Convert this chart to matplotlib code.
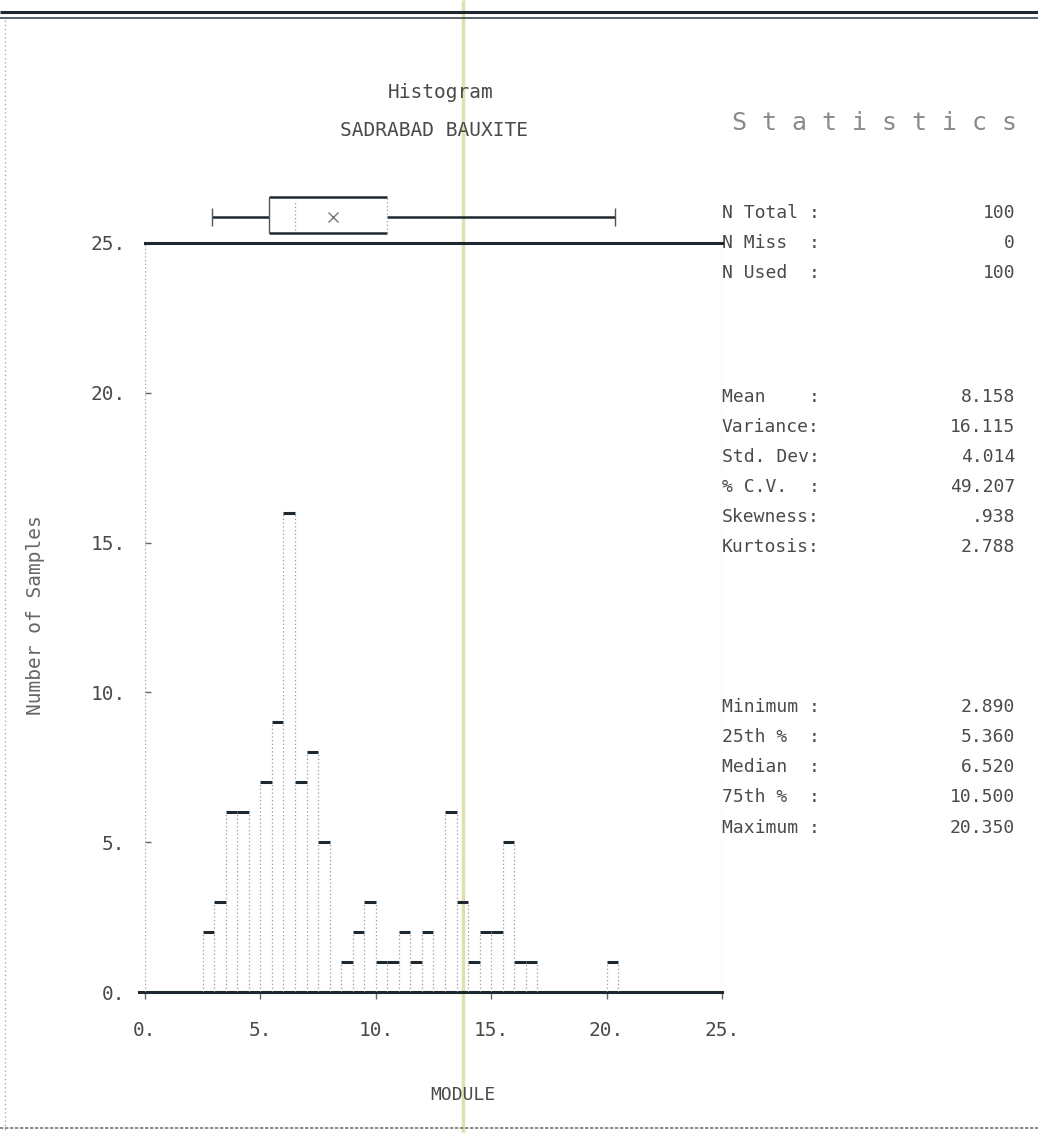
import numpy as np
import matplotlib.pyplot as plt

# histogram counts, bins of 0.5 starting at 2.5
bin_start = 2.5
bin_width = 0.5
counts = [2, 3, 6, 6, 0, 7, 9, 16, 7, 8, 5, 0,
          1, 2, 3, 1, 1, 2, 1, 2, 0, 6, 3, 1,
          2, 2, 5, 1, 1, 0, 0, 0, 0, 0, 0, 1]

# summary statistics printed on the right
stat_labels = ["N Total :", "N Miss  :", "N Used  :",
               "Mean    :", "Variance:", "Std. Dev:", "% C.V.  :", "Skewness:", "Kurtosis:",
               "Minimum :", "25th %  :", "Median  :", "75th %  :", "Maximum :"]
stat_values = ["100", "0", "100",
               "8.158", "16.115", "4.014", "49.207", ".938", "2.788",
               "2.890", "5.360", "6.520", "10.500", "20.350"]

# box plot values
box_min, box_q1, box_med, box_q3, box_max = 2.890, 5.360, 6.520, 10.500, 20.350
box_mean = 8.158

xticks = [0, 5, 10, 15, 20, 25]
yticks = [0, 5, 10, 15, 20, 25]

W, H = 1038, 1133
MONO = ['DejaVu Sans Mono']
dark = '#1e2830'
txt = '#4a4a4a'
dots = '#9a9a9a'

fig = plt.figure(figsize=(W / 100, H / 100), dpi=100)
fig.patch.set_facecolor('white')

# overlay axes in pixel coordinates for the page decoration and text
page = fig.add_axes([0, 0, 1, 1])
page.set_xlim(0, W)
page.set_ylim(H, 0)
page.axis('off')

# main histogram axes
left_px, right_px, top_px, bot_px = 145, 722, 243, 992
ax = fig.add_axes([left_px / W, 1 - bot_px / H, (right_px - left_px) / W, (bot_px - top_px) / H])
ax.set_xlim(0, 25)
ax.set_ylim(0, 25)
for s in ax.spines.values():
    s.set_visible(False)
ax.patch.set_alpha(0)

# frame: solid top/bottom, dotted sides
ax.axhline(25, color=dark, lw=2.2, clip_on=False)
ax.axhline(0, xmin=-0.01, color=dark, lw=2.2, clip_on=False)
ax.axvline(0, color=dots, lw=0.9, ls=(0, (1, 2)))
ax.axvline(25, color=dots, lw=0.9, ls=(0, (1, 2)))

# histogram: solid tops, dotted sides
counts = np.array(counts)
edges = bin_start + bin_width * np.arange(len(counts) + 1)
nz = counts > 0
ax.hlines(counts[nz], edges[:-1][nz], edges[1:][nz], color=dark, lw=2.2)
padded = np.concatenate([[0], counts, [0]])
edge_h = np.maximum(padded[:-1], padded[1:])
ok = edge_h > 0
ax.vlines(edges[ok], 0, edge_h[ok], color=dots, lw=0.9, ls=(0, (1, 2)))

# box plot above the frame
yb0, yb1, yw = 25.34, 26.55, 25.87
ax.hlines(yw, box_min, box_q1, color=dark, lw=1.8, clip_on=False)
ax.hlines(yw, box_q3, box_max, color=dark, lw=1.8, clip_on=False)
ax.vlines([box_min, box_max], yw - 0.3, yw + 0.3, color='#555', lw=1.0, clip_on=False)
ax.hlines([yb0, yb1], box_q1, box_q3, color=dark, lw=1.8, clip_on=False)
ax.vlines(box_q1, yb0, yb1, color='#555', lw=1.0, clip_on=False)
ax.vlines(box_q3, yb0, yb1, color=dots, lw=0.9, ls=(0, (1, 2)), clip_on=False)
ax.vlines(box_med, yb0 + 0.1, yb1 - 0.1, color=dots, lw=0.9, ls=(0, (1, 2)), clip_on=False)
ax.plot([box_mean], [yw], marker='x', ms=7, mew=1.0, color='#777', clip_on=False)

# ticks
ax.set_xticks(xticks)
ax.set_xticklabels([f"{v}." for v in xticks], fontfamily=MONO, fontsize=14, color=txt)
ax.set_yticks(yticks)
ax.set_yticklabels([f"{v}." for v in yticks], fontfamily=MONO, fontsize=14, color=txt)
ax.tick_params(axis='x', direction='out', length=5, width=1, color='#666', pad=16)
ax.tick_params(axis='y', direction='in', length=4, width=1, color='#666', pad=14)

# titles
page.text(441, 92, "Histogram", ha='center', va='center', fontsize=14, color=txt, family=MONO)
page.text(434, 130, "SADRABAD BAUXITE", ha='center', va='center', fontsize=14, color=txt, family=MONO)
page.text(874, 123, "S t a t i s t i c s", ha='center', va='center', fontsize=18, color='#8a8a8a', family=MONO)
page.text(463, 1095, "MODULE", ha='center', va='center', fontsize=13, color=txt, family=MONO)
page.text(36, 615, "Number of Samples", ha='center', va='center', rotation=90, fontsize=14,
          color='#666', family=MONO)

# statistics block
row_y = [213, 243, 273, 397, 427, 457, 487, 517, 547, 707, 737, 767, 797, 828]
for lab, val, yy in zip(stat_labels, stat_values, row_y):
    page.text(722, yy, lab, ha='left', va='center', fontsize=13, color=txt, family=MONO)
    page.text(1015, yy, val, ha='right', va='center', fontsize=13, color=txt, family=MONO)

# page decoration: double rule at top, dotted left edge, rule at bottom, scanner streak
page.hlines(12, 0, W, color=dark, lw=2.2)
page.hlines(18, 0, W, color='#3a4650', lw=1.2)
page.vlines(5, 20, H, color='#aaa', lw=1.0, ls=(0, (1, 2)))
page.hlines(1128, 0, W, color='#777', lw=1.2, ls=(0, (2, 1)))
page.vlines(463, 0, H, color='#e2deb0', lw=2.5, zorder=0)

fig.savefig("out.png", dpi=100, facecolor='white')
